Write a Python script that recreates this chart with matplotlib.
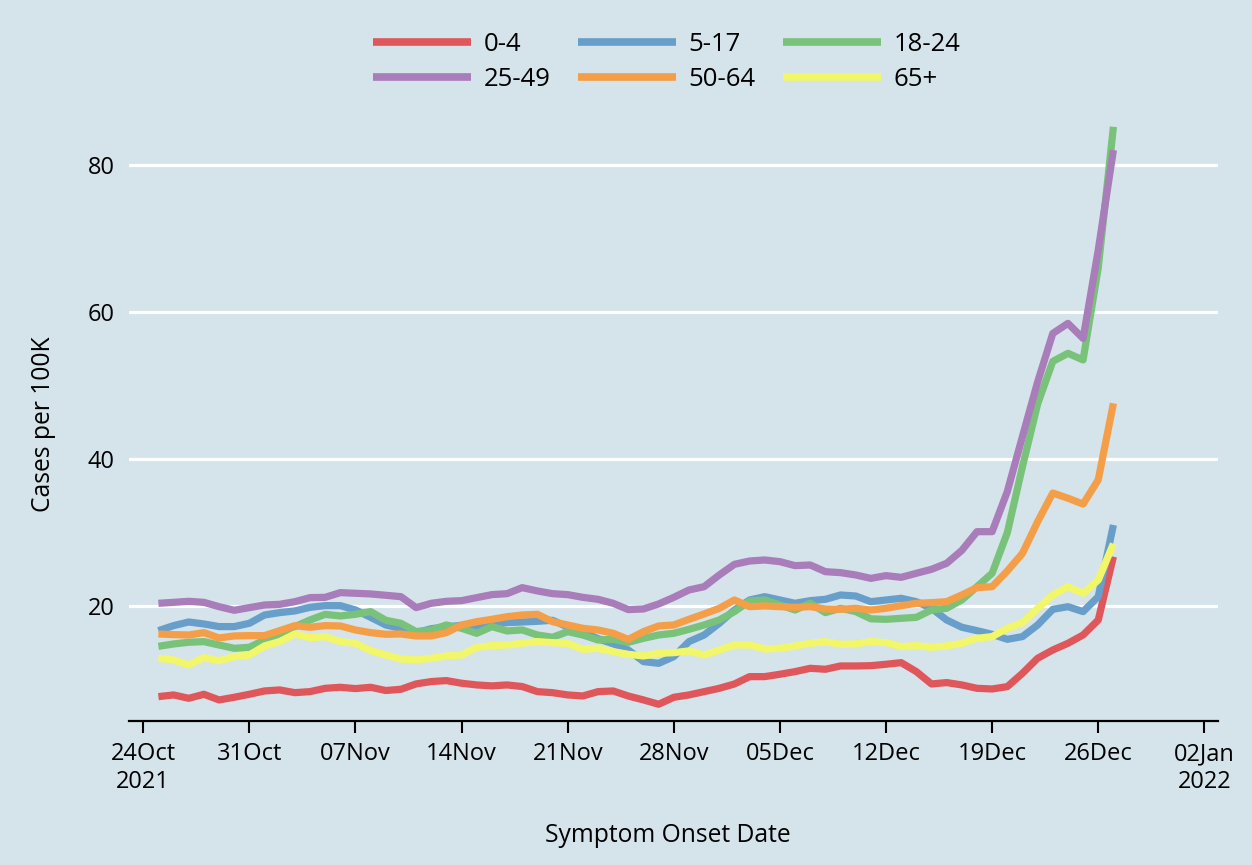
import matplotlib
matplotlib.use("Agg")
import matplotlib.pyplot as plt
import matplotlib.dates as mdates
import pandas as pd

plt.rcParams['font.family'] = ['Open Sans', 'DejaVu Sans']

# ---------------- data ----------------
dates = pd.date_range('2021-10-25', '2021-12-27', freq='D')

age_0_4 = [7.72, 7.95, 7.49, 8.04, 7.27, 7.63, 8.04, 8.49, 8.63, 8.26, 8.40, 8.85, 8.99, 8.81, 8.99, 8.55,
           8.72, 9.45, 9.77, 9.90, 9.54, 9.31, 9.18, 9.31, 9.09, 8.40, 8.26, 7.95, 7.81, 8.40, 8.49, 7.80,
           7.27, 6.68, 7.63, 7.95, 8.40, 8.85, 9.44, 10.44, 10.44, 10.76, 11.12, 11.57, 11.44, 11.89, 11.89, 11.93,
           12.12, 12.34, 11.12, 9.44, 9.63, 9.31, 8.85, 8.76, 9.08, 10.89, 12.93, 14.06, 14.97, 16.10, 18.14, 26.75]
age_5_17 = [16.69, 17.37, 17.87, 17.60, 17.24, 17.24, 17.69, 18.82, 19.14, 19.37, 19.86, 20.09, 20.09, 19.50, 18.50, 17.46,
            17.00, 16.40, 16.96, 17.19, 17.42, 17.28, 17.64, 17.78, 17.87, 17.96, 18.10, 17.19, 16.51, 15.60, 14.90, 14.06,
            12.48, 12.25, 13.16, 15.20, 16.10, 17.69, 19.50, 20.86, 21.31, 20.86, 20.41, 20.77, 20.95, 21.54, 21.40, 20.63,
            20.86, 21.09, 20.63, 19.73, 18.14, 17.15, 16.69, 16.19, 15.51, 15.88, 17.46, 19.59, 19.95, 19.28, 21.31, 31.06]
age_18_24 = [14.56, 14.88, 15.11, 15.20, 14.74, 14.29, 14.43, 15.42, 16.24, 17.24, 18.14, 18.91, 18.69, 18.91, 19.28, 18.10,
             17.69, 16.56, 16.79, 17.46, 17.01, 16.33, 17.24, 16.65, 16.79, 16.10, 15.79, 16.56, 16.10, 15.42, 15.51, 15.10,
             15.65, 16.10, 16.33, 16.87, 17.46, 18.14, 19.28, 20.72, 20.86, 20.18, 19.50, 20.41, 19.14, 19.73, 19.28, 18.30,
             18.23, 18.37, 18.50, 19.50, 19.73, 20.86, 22.67, 24.50, 30.00, 39.00, 47.50, 53.30, 54.40, 53.50, 66.00, 85.20]
age_25_49 = [20.41, 20.54, 20.68, 20.54, 19.95, 19.46, 19.82, 20.18, 20.27, 20.63, 21.18, 21.22, 21.86, 21.77, 21.68, 21.50,
             21.31, 19.82, 20.41, 20.68, 20.77, 21.18, 21.59, 21.72, 22.54, 22.09, 21.72, 21.59, 21.22, 20.95, 20.41, 19.55,
             19.64, 20.32, 21.22, 22.22, 22.67, 24.26, 25.71, 26.16, 26.30, 26.07, 25.53, 25.62, 24.71, 24.58, 24.26, 23.80,
             24.17, 23.94, 24.49, 25.03, 25.85, 27.60, 30.15, 30.15, 35.60, 43.10, 50.50, 57.10, 58.47, 56.43, 68.44, 82.03]
age_50_64 = [16.24, 16.15, 16.10, 16.42, 15.70, 15.97, 16.01, 16.01, 16.69, 17.37, 17.15, 17.37, 17.33, 16.78, 16.42, 16.20,
             16.24, 15.97, 15.97, 16.42, 17.46, 17.91, 18.23, 18.59, 18.82, 18.91, 17.91, 17.46, 17.01, 16.78, 16.33, 15.50,
             16.56, 17.33, 17.46, 18.23, 18.96, 19.73, 20.86, 19.95, 20.05, 19.95, 19.86, 19.95, 19.64, 19.59, 19.73, 19.50,
             19.73, 20.09, 20.41, 20.50, 20.63, 21.54, 22.54, 22.67, 24.80, 27.20, 31.50, 35.40, 34.70, 33.90, 37.20, 47.60]
age_65p = [12.93, 12.71, 12.03, 13.02, 12.61, 13.16, 13.38, 14.61, 15.20, 16.24, 15.74, 15.88, 15.20, 14.97, 13.97, 13.38,
           12.84, 12.71, 12.93, 13.25, 13.38, 14.43, 14.65, 14.74, 14.97, 15.20, 15.06, 14.97, 14.15, 14.29, 13.84, 13.47,
           13.25, 13.61, 13.70, 13.93, 13.38, 14.06, 14.74, 14.74, 14.20, 14.29, 14.61, 14.97, 15.20, 14.84, 14.88, 15.20,
           15.06, 14.52, 14.65, 14.43, 14.61, 14.97, 15.65, 15.88, 17.01, 17.78, 19.73, 21.54, 22.67, 21.77, 23.58, 28.50]

series_names = ['0-4', '5-17', '18-24', '25-49', '50-64', '65+']
series_values = [age_0_4, age_5_17, age_18_24, age_25_49, age_50_64, age_65p]
series_colors = ['#e0575b', '#679fca', '#78c27a', '#a97cba', '#f49e48', '#f2f76a']

tick_dates = pd.date_range('2021-10-24', '2022-01-02', freq='7D')
tick_labels = ['24Oct\n2021', '31Oct', '07Nov', '14Nov', '21Nov', '28Nov', '05Dec',
               '12Dec', '19Dec', '26Dec', '02Jan\n2022']
y_ticks = [20, 40, 60, 80]

# ---------------- figure ----------------
bg = '#d5e3ea'
W, H = 1252, 865
fig = plt.figure(figsize=(W / 100, H / 100), dpi=100, facecolor=bg)
left_px, right_px, bottom_px, top_px = 129, 1218, 720.7, 91.5
ax = fig.add_axes([left_px / W, 1 - bottom_px / H, (right_px - left_px) / W, (bottom_px - top_px) / H])
ax.set_facecolor(bg)

lines = []
for name, vals, col in zip(series_names, series_values, series_colors):
    ln, = ax.plot(dates, vals, color=col, lw=5.2, label=name,
                  solid_joinstyle='round', solid_capstyle='butt', zorder=3)
    lines.append(ln)

x0 = mdates.date2num(pd.Timestamp('2021-10-24'))
ax.set_xlim(x0 - 0.94, x0 + 70.9)
ax.set_ylim(4.446, 90)

ax.set_xticks(tick_dates)
ax.set_xticklabels(tick_labels)
ax.set_yticks(y_ticks)
ax.set_yticklabels([str(v) for v in y_ticks])

ax.grid(axis='y', color='white', lw=2.3, zorder=1)
ax.grid(axis='x', visible=False)
for s in ['top', 'right', 'left']:
    ax.spines[s].set_visible(False)
ax.spines['bottom'].set_linewidth(1.6)
ax.spines['bottom'].set_color('black')

ax.tick_params(axis='x', length=8.6, width=1.5, color='black', labelsize=17, pad=7)
ax.tick_params(axis='y', length=0, labelsize=17, pad=10.5)
for lab in ax.get_xticklabels():
    lab.set_linespacing(1.22)

fig.text(668 / W, 1 - 836 / H, 'Symptom Onset Date', ha='center', va='center', fontsize=17.7)
fig.text(44 / W, 1 - 424 / H, 'Cases per 100K', ha='center', va='center', rotation=90, fontsize=17.7)

# legend: row-major order across 3 columns
order = [0, 3, 1, 4, 2, 5]
leg = fig.legend([lines[i] for i in order], [series_names[i] for i in order],
                 ncol=3, loc='upper center', bbox_to_anchor=(667 / W, 1 - 19.5 / H),
                 frameon=False, fontsize=18.5, handlelength=3.81, handletextpad=0.5,
                 columnspacing=1.05, labelspacing=0.38, borderpad=0.0)
for lh in leg.get_lines():
    lh.set_linewidth(5.5)

fig.savefig('out.png', dpi=100, facecolor=bg)
